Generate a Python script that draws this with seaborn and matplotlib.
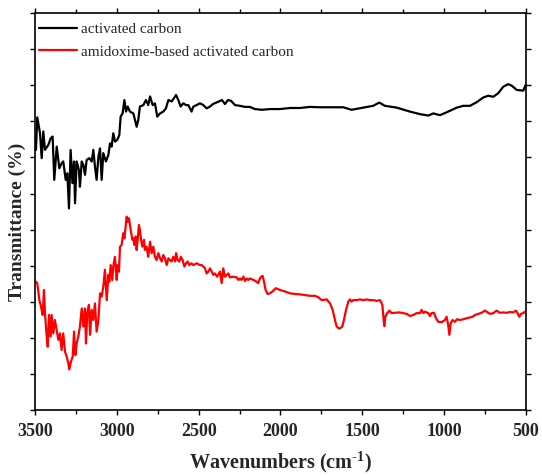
import numpy as np
import pandas as pd
import seaborn as sns
import matplotlib
matplotlib.use("Agg")
import matplotlib.pyplot as plt
from matplotlib.ticker import MultipleLocator

# FTIR spectra: wavenumber (cm-1) and transmittance (arbitrary offset units)
ac_wavenumber = [
    3496, 3488, 3471, 3461, 3451, 3441, 3420, 3406, 3394, 3384, 3369, 3353,
    3339, 3329, 3314, 3304, 3294, 3284, 3273, 3263, 3257, 3247, 3233, 3227,
    3216, 3206, 3196, 3186, 3170, 3155, 3145, 3135, 3125, 3114, 3104, 3094,
    3084, 3068, 3053, 3043, 3033, 3023, 3012, 2998, 2986, 2978, 2966, 2955,
    2945, 2935, 2921, 2900, 2880, 2870, 2860, 2839, 2823, 2809, 2798, 2782,
    2768, 2754, 2737, 2717, 2701, 2686, 2666, 2652, 2639, 2625, 2611, 2595,
    2578, 2564, 2544, 2533, 2513, 2493, 2472, 2452, 2431, 2413, 2382, 2358,
    2340, 2321, 2303, 2278, 2248, 2217, 2187, 2156, 2113, 2064, 2003, 1942,
    1881, 1820, 1759, 1697, 1616, 1565, 1494, 1433, 1396, 1361, 1289, 1208,
    1147, 1096, 1065, 1025, 984, 922, 882, 841, 800, 760, 729, 698, 668,
    637, 607, 586, 555, 515, 500,
]
ac_transmittance = [
    72.1, 81.1, 76.7, 69.8, 77.2, 72.1, 73.5, 75.3, 75.8, 63.8, 73.0, 67.0,
    68.4, 68.9, 63.8, 65.6, 55.9, 72.1, 62.9, 68.9, 57.3, 68.9, 66.5, 61.9,
    68.9, 67.9, 65.2, 69.3, 69.8, 68.9, 72.1, 67.5, 63.8, 70.2, 72.5, 63.8,
    71.2, 68.9, 70.7, 73.9, 73.0, 76.7, 74.4, 74.9, 76.2, 81.3, 82.2, 85.9,
    82.7, 84.1, 82.7, 82.2, 78.5, 80.4, 84.1, 84.5, 85.9, 84.5, 86.9, 84.5,
    85.0, 81.3, 82.2, 82.7, 83.6, 85.9, 85.5, 86.4, 87.3, 85.9, 84.1, 85.0,
    84.5, 84.5, 82.7, 84.1, 84.5, 85.0, 84.5, 83.6, 84.1, 84.8, 85.4, 85.9,
    84.8, 85.9, 85.7, 84.5, 84.3, 84.0, 84.0, 83.4, 83.2, 83.4, 83.4, 83.7,
    83.7, 84.0, 83.9, 83.9, 83.9, 83.2, 83.8, 84.3, 85.2, 84.3, 83.8, 82.7,
    82.0, 81.6, 82.2, 81.7, 82.5, 83.8, 84.3, 84.3, 85.3, 86.6, 87.1, 86.8,
    87.8, 89.6, 90.3, 89.9, 88.7, 88.5, 90.1,
]

aac_wavenumber = [
    3496, 3488, 3475, 3465, 3455, 3447, 3441, 3431, 3424, 3416, 3406, 3400,
    3390, 3380, 3369, 3359, 3349, 3339, 3329, 3318, 3308, 3298, 3292, 3282,
    3271, 3263, 3255, 3247, 3237, 3227, 3216, 3206, 3196, 3190, 3182, 3172,
    3165, 3155, 3145, 3135, 3125, 3114, 3104, 3094, 3084, 3074, 3063, 3053,
    3047, 3039, 3029, 3023, 3013, 3002, 2996, 2988, 2982, 2972, 2962, 2955,
    2947, 2941, 2935, 2927, 2921, 2915, 2906, 2900, 2894, 2886, 2880, 2874,
    2866, 2860, 2853, 2845, 2835, 2829, 2819, 2809, 2798, 2788, 2778, 2768,
    2758, 2747, 2737, 2727, 2717, 2707, 2696, 2686, 2676, 2666, 2656, 2645,
    2639, 2629, 2619, 2609, 2599, 2588, 2578, 2568, 2558, 2544, 2533, 2513,
    2493, 2482, 2472, 2462, 2452, 2442, 2431, 2411, 2401, 2387, 2370, 2360,
    2350, 2340, 2329, 2319, 2309, 2289, 2268, 2258, 2248, 2238, 2227, 2217,
    2207, 2197, 2187, 2166, 2146, 2136, 2130, 2119, 2109, 2101, 2091, 2079,
    2064, 2044, 2028, 2003, 1973, 1942, 1911, 1881, 1850, 1820, 1789, 1769,
    1748, 1718, 1697, 1681, 1667, 1657, 1646, 1636, 1622, 1612, 1599, 1585,
    1575, 1565, 1555, 1534, 1514, 1493, 1473, 1453, 1432, 1412, 1391, 1377,
    1369, 1365, 1359, 1347, 1334, 1320, 1300, 1279, 1259, 1228, 1208, 1188,
    1167, 1147, 1137, 1126, 1116, 1096, 1086, 1076, 1061, 1049, 1035, 1014,
    994, 984, 974, 967, 959, 947, 933, 919, 902, 882, 861, 841, 825, 810,
    790, 770, 749, 739, 719, 698, 678, 658, 637, 617, 596, 576, 560, 549,
    539, 529, 515, 505,
]
aac_transmittance = [
    35.6, 35.2, 30.5, 28.7, 26.4, 33.3, 26.9, 20.9, 17.6, 26.4, 20.4, 26.4,
    21.3, 25.0, 22.2, 19.5, 21.3, 16.7, 21.3, 16.2, 14.9, 13.0, 11.3, 13.5,
    14.9, 21.8, 15.3, 18.5, 20.4, 23.2, 28.2, 23.2, 28.2, 18.5, 26.9, 29.2,
    20.9, 27.8, 25.0, 29.6, 21.8, 25.0, 32.4, 31.5, 34.2, 38.9, 30.5, 37.5,
    35.6, 40.2, 36.1, 39.8, 42.5, 36.1, 40.2, 38.4, 45.3, 45.8, 49.0, 47.6,
    50.9, 53.6, 52.2, 53.2, 51.3, 49.5, 47.2, 47.6, 45.8, 48.1, 44.4, 47.2,
    51.3, 49.9, 47.2, 45.3, 47.2, 44.4, 45.3, 42.5, 46.7, 43.5, 45.3, 42.5,
    41.6, 43.5, 42.1, 41.2, 43.0, 42.1, 40.2, 42.1, 41.6, 41.2, 42.5, 41.2,
    43.5, 41.6, 41.2, 42.5, 41.6, 39.8, 40.7, 41.2, 40.2, 40.7, 40.2, 40.7,
    40.2, 40.2, 39.8, 39.3, 37.9, 38.4, 39.3, 37.5, 37.9, 37.0, 38.4, 35.2,
    39.3, 37.0, 37.5, 37.9, 36.8, 37.0, 36.8, 36.1, 36.5, 36.1, 37.0, 35.8,
    36.5, 36.1, 36.5, 36.1, 35.6, 35.2, 36.1, 37.0, 37.2, 35.6, 33.3, 32.2,
    32.4, 33.1, 33.8, 33.3, 32.9, 32.4, 32.2, 32.1, 31.9, 31.7, 31.7, 31.3,
    30.5, 30.7, 29.6, 27.8, 25.0, 23.3, 22.7, 22.7, 23.2, 25.0, 27.8, 30.1,
    30.7, 30.1, 30.5, 30.5, 30.7, 30.5, 30.7, 30.5, 30.5, 30.3, 30.5, 29.2,
    25.0, 23.3, 25.9, 26.9, 27.6, 26.9, 27.0, 27.1, 27.0, 26.7, 26.1, 26.4,
    26.9, 26.9, 27.8, 26.9, 27.3, 26.9, 26.1, 26.9, 27.0, 25.5, 24.5, 24.4,
    25.0, 25.9, 23.6, 20.9, 24.1, 25.0, 24.5, 25.2, 25.0, 25.2, 25.5, 25.7,
    25.9, 26.4, 26.7, 27.0, 27.6, 27.3, 26.7, 26.9, 27.6, 27.0, 27.1, 27.0,
    27.2, 27.1, 27.6, 26.9, 25.9, 26.7, 26.9, 27.3,
]

series_names = ["activated carbon", "amidoxime-based activated carbon"]
series_colors = ["black", "red"]
x_ticks = [3500, 3000, 2500, 2000, 1500, 1000, 500]

df = pd.concat([
    pd.DataFrame({"wavenumber": ac_wavenumber, "T": ac_transmittance,
                  "sample": series_names[0]}),
    pd.DataFrame({"wavenumber": aac_wavenumber, "T": aac_transmittance,
                  "sample": series_names[1]}),
], ignore_index=True)

sns.set_theme(style="ticks")
plt.rcParams["font.family"] = ["Liberation Serif", "DejaVu Serif"]
plt.rcParams["mathtext.fontset"] = "custom"
plt.rcParams["mathtext.rm"] = "Liberation Serif:bold"
plt.rcParams["mathtext.bf"] = "Liberation Serif:bold"

fig = plt.figure(figsize=(5.42, 4.76), dpi=100)
ax = fig.add_axes([35.3 / 542, 65.7 / 476, 490.4 / 542, 397.3 / 476])

sns.lineplot(data=df, x="wavenumber", y="T", hue="sample",
             palette=dict(zip(series_names, series_colors)),
             linewidth=1.6, sort=False, estimator=None, ax=ax)

ax.set_xlim(3500, 500)
ax.set_ylim(0, 110)
ax.set_xticks(x_ticks)
ax.xaxis.set_minor_locator(MultipleLocator(250))
ax.yaxis.set_major_locator(MultipleLocator(10))
ax.set_yticklabels([])
ax.tick_params(axis="both", which="both", direction="out", width=1.0,
               top=True, right=True, color="black")
ax.tick_params(axis="both", which="major", length=3.5)
ax.tick_params(axis="x", which="minor", length=3)
ax.tick_params(axis="x", labelsize=13, pad=6)
for lab in ax.get_xticklabels():
    lab.set_fontweight("bold")
for sp in ax.spines.values():
    sp.set_visible(True)
    sp.set_linewidth(1.2)
    sp.set_color("black")

ax.set_xlabel(r"Wavenumbers (cm$^{\text{-1}}$)", fontsize=14.5,
              fontweight="bold", va="center")
ax.xaxis.set_label_coords(0.5, -0.13)
ax.set_ylabel("Transmittance (%)", fontsize=14, fontweight="bold",
              va="center")
ax.yaxis.set_label_coords(-0.036, 0.474)

ax.legend(loc="upper left", bbox_to_anchor=(0.0, 0.985), frameon=False,
          fontsize=11, handlelength=2.5, handletextpad=0.25,
          labelspacing=0.55, borderaxespad=0.0, borderpad=0.25)

fig.savefig("out.png", dpi=100)
